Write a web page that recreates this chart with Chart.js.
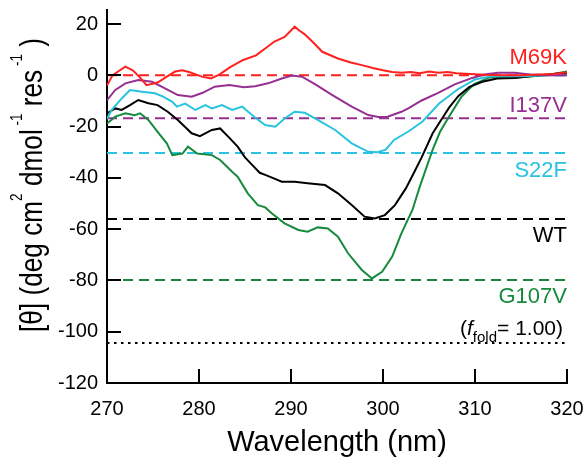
<!DOCTYPE html>
<html>
<head>
<meta charset="utf-8">
<script src="https://cdn.jsdelivr.net/npm/chart.js@4"></script>
<style>
  html, body { margin: 0; padding: 0; background: #fff; }
  #wrap { width: 588px; height: 457px; }
</style>
</head>
<body>
<div id="wrap"><canvas id="chart"></canvas></div>
<script>
// CD spectra, [wavelength nm, [θ]]
const m69k = [[270,-4],[270.6,0],[271.2,1.5],[272,3.4],[272.8,2],[273.5,-0.5],[274.3,-3.8],[275.5,-2.8],[276.5,-0.5],[277.4,1.5],[278.2,2],[279,1.2],[280.3,-0.5],[281.3,-1.2],[282.2,0.3],[283.4,3.2],[284.8,6],[286.2,7.8],[287.3,10.8],[288.2,13.2],[289.3,15],[290,17.5],[290.4,19],[290.9,17.5],[291.5,16],[292.5,12.5],[293.4,9.2],[295.1,6.6],[296.5,5],[297.7,4],[299,2.8],[300,2],[301,1.3],[302,1],[303,1.3],[304,0.8],[305,1.5],[306,1],[307,1.3],[308,0.8],[309.5,0.5],[311,0.2],[313,0],[315,0],[317,0.3],[318.5,0.5],[320,1.2]];
const i137v = [[270,-9.7],[270.9,-5.7],[272,-3.1],[273.4,-1.8],[274.9,-2.5],[276.3,-5.1],[277.7,-7.7],[279.2,-8.3],[280.4,-6.8],[281.7,-4.4],[283.3,-3.8],[284.9,-4.6],[286.1,-4.2],[287.5,-3.1],[289,-1.2],[290.1,-0.1],[291.2,-0.5],[292.6,-3.4],[294.5,-7.7],[296.6,-12.2],[298.4,-15.5],[299.5,-16.2],[300.5,-16.1],[302,-14.2],[302.8,-12.8],[304.2,-9.8],[306,-6.8],[307.8,-3.5],[309.7,-1],[311,0.3],[312.5,1],[314.3,1],[316,0.3],[318,0],[320,0]];
const s22f = [[270,-17],[270.5,-13.5],[271.6,-9],[272.5,-5.7],[273.8,-6.4],[275.2,-7],[276.1,-8.3],[277.1,-10.3],[277.6,-12.2],[278.5,-11],[279.6,-13.5],[280.7,-11.6],[281.4,-12.9],[282.5,-11.6],[283.6,-13.5],[284.7,-12.2],[285.6,-15],[286.3,-17],[287.2,-19.4],[288.3,-20],[289.3,-16.8],[290.4,-14.2],[291.5,-14.6],[292.9,-17.4],[294.8,-21.3],[296.6,-26.5],[298.4,-29.8],[299.4,-30],[300.3,-29],[301.2,-25.2],[302.8,-21.8],[304.3,-18],[306.1,-11],[308.1,-5.5],[310,-1.6],[311.8,-0.3],[315,-0.3],[318,0],[320,0]];
const wt = [[270,-14.8],[270.9,-12.9],[271.6,-13.5],[272.5,-11.6],[273.4,-9.6],[274.5,-10.9],[275.5,-11.6],[276.6,-14.2],[277.7,-17.4],[279.2,-22.6],[280.1,-23.7],[281.4,-21.3],[282.3,-20.7],[283.2,-24],[284.2,-27.8],[285,-32],[285.8,-35],[286.6,-38],[287.2,-38.8],[288,-40],[289,-41.5],[290.4,-41.5],[291.8,-42.1],[293.7,-42.8],[295.1,-46],[296.6,-50.6],[298,-55.1],[299.1,-55.8],[300.2,-54.5],[301.3,-50.6],[302.5,-44],[303.5,-37],[304.2,-32],[305.4,-22.6],[306.3,-17.5],[307.2,-12.5],[308.2,-8],[309.4,-4.5],[310.8,-2.5],[312.4,-1.2],[314.3,-1],[316,-0.3],[318,0.3],[320,1]];
const g107v = [[270,-18.8],[270.9,-16.1],[272,-14.8],[273,-15.5],[273.6,-14.8],[274.5,-17.4],[275.5,-22],[276.5,-26.5],[277.1,-31.1],[278.2,-30.5],[278.8,-27.8],[279.8,-30.5],[281.4,-31.1],[282.3,-33],[283.6,-37.6],[284.2,-39.5],[285.3,-46],[286.4,-50.6],[287.2,-51.5],[287.9,-53.8],[289.3,-57.7],[290.8,-60.3],[291.8,-61],[292.9,-59.3],[294,-59.7],[295.1,-62.9],[296.2,-69.4],[297.7,-75.9],[298.8,-79.2],[299.9,-76.6],[301,-70.7],[302,-61.6],[303.2,-52.5],[304,-43.4],[305.4,-29],[306.2,-22],[307.1,-16.5],[308.5,-8.5],[309.9,-3.4],[311.6,-0.8],[314.3,-0.9],[317.6,0],[320,1.5]];

const seriesNames = ["M69K", "I137V", "S22F", "WT", "G107V"];
const seriesColors = ["#ff2020", "#962f91", "#28c4df", "#000000", "#178a3e"];
const minLevels = [0, -16.7, -30.3, -56, -79.8];
const foldedLevel = -104.4;
const xTicks = [270, 280, 290, 300, 310, 320];
const yTicks = [-120, -100, -80, -60, -40, -20, 0, 20];

const FONT = "'Liberation Sans', Arial, sans-serif";
const labelY = [4.4, -14.3, -39.7, -65, -88.8];
const ffoldY = -101.3;

const toXY = arr => arr.map(p => ({ x: p[0], y: p[1] }));
const curves = [m69k, i137v, s22f, wt, g107v];

const datasets = [];
curves.forEach((c, i) => {
  datasets.push({
    data: toXY(c),
    borderColor: seriesColors[i],
    borderWidth: 2,
  });
});
minLevels.forEach((v, i) => {
  datasets.push({
    data: [{ x: xTicks[0], y: v }, { x: xTicks[xTicks.length - 1], y: v }],
    borderColor: seriesColors[i],
    borderWidth: 2,
    borderDash: [10, 6],
  });
});
datasets.push({
  data: [{ x: xTicks[0], y: foldedLevel }, { x: xTicks[xTicks.length - 1], y: foldedLevel }],
  borderColor: "#000",
  borderWidth: 2,
  borderDash: [2.5, 4.5],
});

// ticks pointing into the plot
const innerTicks = {
  id: "innerTicks",
  afterDraw(chart) {
    const { ctx, scales: { x, y } } = chart;
    ctx.save();
    ctx.strokeStyle = "#000";
    ctx.lineWidth = 2;
    ctx.beginPath();
    x.ticks.forEach(t => {
      const px = Math.round(x.getPixelForValue(t.value));
      ctx.moveTo(px, y.bottom);
      ctx.lineTo(px, y.bottom - 14);
    });
    y.ticks.forEach(t => {
      const py = Math.round(y.getPixelForValue(t.value));
      ctx.moveTo(x.left, py);
      ctx.lineTo(x.left + 14, py);
    });
    ctx.stroke();
    ctx.restore();
  },
};

// y title with real superscripts, squeezed to the original's length
const yTitle = {
  id: "yTitle",
  afterDraw(chart) {
    const ctx = chart.ctx;
    const main = "31px " + FONT, small = "16px " + FONT;
    const parts = [
      { t: "[θ] (deg cm", sup: false },
      { t: "2", sup: true },
      { t: " dmol", sup: false },
      { t: " -1", sup: true },
      { t: " res", sup: false },
      { t: " -1", sup: true },
      { t: " )", sup: false },
    ];
    ctx.save();
    let total = 0;
    parts.forEach(p => { ctx.font = p.sup ? small : main; p.w = ctx.measureText(p.t).width; total += p.w; });
    const k = 294 / total;
    ctx.translate(42, 185);
    ctx.rotate(-Math.PI / 2);
    ctx.scale(k, 1);
    ctx.fillStyle = "#000";
    ctx.textAlign = "left";
    ctx.textBaseline = "alphabetic";
    let cx = -total / 2;
    parts.forEach(p => {
      ctx.font = p.sup ? small : main;
      ctx.fillText(p.t, cx, p.sup ? -20 : 0);
      cx += p.w;
    });
    ctx.restore();
  },
};

const seriesLabels = {
  id: "seriesLabels",
  afterDatasetsDraw(chart) {
    const { ctx, scales: { x, y } } = chart;
    const right = x.getPixelForValue(320);
    ctx.save();
    ctx.textAlign = "right";
    ctx.textBaseline = "alphabetic";
    ctx.font = "22px " + FONT;
    seriesNames.forEach((name, i) => {
      ctx.fillStyle = seriesColors[i];
      ctx.fillText(name, right, y.getPixelForValue(labelY[i]));
    });

    // (f_fold = 1.00)
    const base = y.getPixelForValue(ffoldY);
    const parts = [
      { t: "(", f: "21px " + FONT, dy: 0 },
      { t: "f", f: "italic 21px " + FONT, dy: 0 },
      { t: "fold", f: "15px " + FONT, dy: 7 },
      { t: "= 1.00)", f: "21px " + FONT, dy: 0 },
    ];
    let total = 0;
    parts.forEach(p => { ctx.font = p.f; p.w = ctx.measureText(p.t).width; total += p.w; });
    let cx = right - 4 - total;
    ctx.textAlign = "left";
    ctx.fillStyle = "#000";
    parts.forEach(p => {
      ctx.font = p.f;
      ctx.fillText(p.t, cx, base + p.dy);
      cx += p.w;
    });
    ctx.restore();
  },
};

new Chart(document.getElementById("chart"), {
  type: "line",
  data: { datasets },
  options: {
    animation: false,
    responsive: true,
    maintainAspectRatio: false,
    devicePixelRatio: 1,
    layout: { padding: { top: 10, right: 21, left: 0, bottom: 0 } },
    elements: { point: { radius: 0 }, line: { tension: 0 } },
    plugins: { legend: { display: false }, tooltip: { enabled: false } },
    scales: {
      x: {
        type: "linear",
        min: 270,
        max: 320,
        grid: { display: false, drawTicks: false },
        border: { color: "#000", width: 2 },
        ticks: { color: "#000", font: { size: 20, family: FONT }, padding: 14 },
        afterBuildTicks: s => { s.ticks = xTicks.map(v => ({ value: v })); },
        title: {
          display: true,
          text: "Wavelength (nm)",
          color: "#000",
          font: { size: 29, family: FONT, lineHeight: 1 },
          padding: 0,
        },
        afterFit: s => { s.height = 74; s.paddingLeft = 0; s.paddingRight = 0; },
      },
      y: {
        type: "linear",
        min: -120,
        max: 25.5,
        grid: { display: false, drawTicks: false },
        border: { color: "#000", width: 2 },
        ticks: { color: "#000", font: { size: 20, family: FONT }, padding: 9 },
        afterBuildTicks: s => { s.ticks = yTicks.map(v => ({ value: v })); },
        afterFit: s => { s.width = 107; s.paddingTop = 0; s.paddingBottom = 0; },
      },
    },
  },
  plugins: [innerTicks, yTitle, seriesLabels],
});
</script>
</body>
</html>
